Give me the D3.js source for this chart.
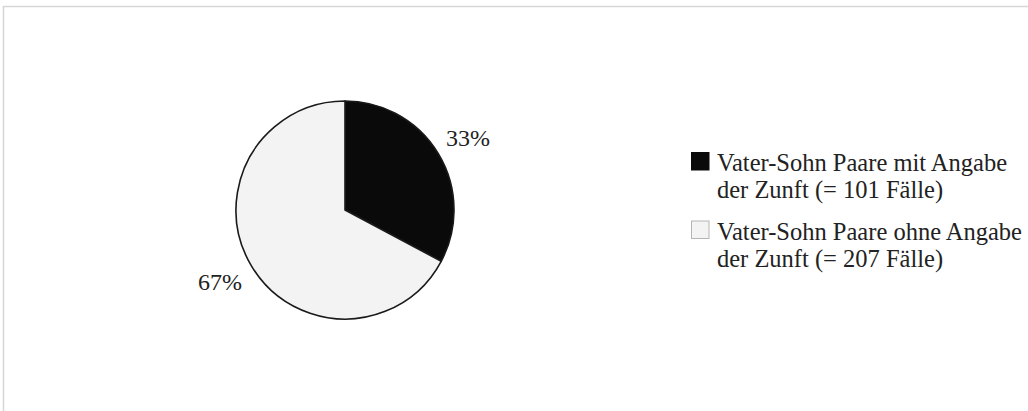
<!DOCTYPE html>
<html>
<head>
<meta charset="utf-8">
<script src="https://cdn.jsdelivr.net/npm/d3@7"></script>
<style>
  html, body { margin: 0; padding: 0; background: #fff; }
  svg { display: block; }
  text { font-family: "Liberation Serif", "Times New Roman", serif; fill: #222; }
</style>
</head>
<body>
<svg id="chart" width="1028" height="411"></svg>
<script>
// Father-son pairs, split by whether the guild is recorded
const categories = ["mit Angabe", "ohne Angabe"];
const caseCounts = [101, 207];
const percentLabels = ["33%", "67%"];
const legendLines = [
  ["Vater-Sohn Paare mit Angabe", "der Zunft (= 101 Fälle)"],
  ["Vater-Sohn Paare ohne Angabe", "der Zunft (= 207 Fälle)"]
];
const sliceColors = ["#0a0a0a", "#f3f3f3"];

const svg = d3.select("#chart");

// faint frame along top and left edges
svg.append("path")
  .attr("d", "M3.5,411 V6.5 H1028")
  .attr("fill", "none")
  .attr("stroke", "#d6d6d6")
  .attr("stroke-width", 1.5);

const cx = 345, cy = 210, r = 109;
const color = d3.scaleOrdinal().domain(categories).range(sliceColors);

const pie = d3.pie().sort(null).value(d => d.value);
const arcs = pie(categories.map((c, i) => ({ cat: c, value: caseCounts[i], label: percentLabels[i] })));
const arc = d3.arc().innerRadius(0).outerRadius(r);

const g = svg.append("g").attr("transform", `translate(${cx},${cy})`);

g.selectAll("path.slice")
  .data(arcs)
  .join("path")
  .attr("class", "slice")
  .attr("d", arc)
  .attr("fill", d => color(d.data.cat))
  .attr("stroke", "#1a1a1a")
  .attr("stroke-width", 1.6)
  .attr("stroke-linejoin", "round");

// percentage labels outside the pie
const labelArc = d3.arc().innerRadius(r + 32).outerRadius(r + 32);
const labelShift = [[2, 1], [-4, -1]];
g.selectAll("text.pct")
  .data(arcs)
  .join("text")
  .attr("class", "pct")
  .attr("x", (d, i) => labelArc.centroid(d)[0] + labelShift[i][0])
  .attr("y", (d, i) => labelArc.centroid(d)[1] + labelShift[i][1])
  .attr("text-anchor", "middle")
  .attr("dominant-baseline", "central")
  .attr("font-size", 24)
  .text(d => d.data.label);

// legend
const legend = svg.append("g").attr("transform", "translate(691,152)");
const item = legend.selectAll("g.item")
  .data(categories)
  .join("g")
  .attr("class", "item")
  .attr("transform", (d, i) => `translate(0,${i * 68.5})`);

item.append("rect")
  .attr("x", 0.5).attr("y", 0.5)
  .attr("width", 17.5).attr("height", 17.5)
  .attr("fill", d => color(d))
  .attr("stroke", (d, i) => i === 0 ? "#0a0a0a" : "#b5b5b5")
  .attr("stroke-width", 1);

item.selectAll("text")
  .data((d, i) => legendLines[i])
  .join("text")
  .attr("x", 26)
  .attr("y", (d, j) => 19 + j * 27)
  .attr("font-size", 24.5)
  .text(d => d);
</script>
</body>
</html>
